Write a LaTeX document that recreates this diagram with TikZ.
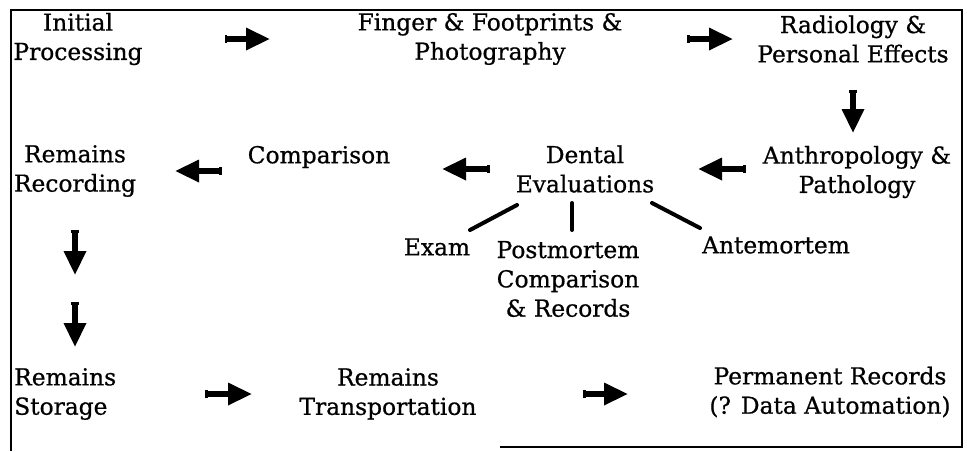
\documentclass[tikz,border=0pt]{standalone}
\usepackage{fontspec}
\setmainfont{DejaVu Serif}
\newfontfamily\stagefont{DejaVu Serif}[FakeBold=0.7]
\usetikzlibrary{arrows.meta,calc}

\def \textsize {\stagefont\fontsize{17.5}{22}\selectfont}
\tikzstyle{stage}=[inner sep=0pt, align=center, font=\textsize]
\tikzstyle{flow}=[line width=4pt, {Bar[width=6pt,line width=2pt]}-{Triangle[length=18pt,width=16pt]}]
\tikzstyle{branch}=[line width=3pt, line cap=round]
\tikzstyle{frame}=[line width=1.5pt]

\begin{document}
\begin{tikzpicture}[x=0.75pt, y=-0.75pt]
\useasboundingbox (0,0) rectangle (967,451);

% outer frame, bottom edge only partly printed
\draw[frame] (500,447) -- (962,447) -- (962,10) -- (11,10) -- (11,451);

% stages
\node[stage] (init) at (78,39) {Initial\\Processing};
\node[stage] (prints) at (490,39) {Finger \& Footprints \&\\Photography};
\node[stage] (radio) at (853,39) {Radiology \&\\Personal Effects};
\node[stage] (anthro) at (857,172) {Anthropology \&\\Pathology};
\node[stage] (dental) at (585,169) {Dental\\Evaluations};
\node[stage] (compare) at (319,157) {Comparison};
\node[stage] (recording) at (75,171) {Remains\\Recording};
\node[stage, align=left, anchor=west] (storage) at (14,394) {Remains\\Storage};
\node[stage] (transport) at (388,394) {Remains\\Transportation};
\node[stage] (records) at (830,392) {Permanent Records\\(? Data Automation)};

% dental sub-items
\node[stage] (exam) at (437,247) {Exam};
\node[stage] (postmortem) at (568,279) {Postmortem\\Comparison\\\& Records};
\node[stage] (antemortem) at (776,245) {Antemortem};

% flow arrows
\draw[flow, shorten <=110pt, shorten >=165pt] (init.center) -- (init.center -| prints.center);
\draw[flow, shorten <=147.75pt, shorten >=90pt] (prints.center) -- (prints.center -| radio.center);
\draw[flow, shorten <=38.25pt, shorten >=29.25pt] (radio.center) -- (radio.center |- anthro.center);
\draw[flow, shorten <=83.25pt, shorten >=84.75pt] (dental.center -| anthro.center) -- (dental.center);
\draw[flow, shorten <=71.25pt, shorten >=92.25pt] (dental.center) -- (dental.center -| compare.center);
\draw[flow, shorten <=72.75pt, shorten >=75pt] (recording.center -| compare.center) -- (recording.center);
\draw[flow, shorten <=44.25pt, shorten >=89.25pt] (recording.center) -- (recording.center |- storage.center);
\draw[flow, shorten <=98.25pt, shorten >=35.25pt] (recording.center) -- (recording.center |- storage.center);
\draw[flow, shorten <=143.25pt, shorten >=102pt] (transport.center -| storage.west) -- (transport.center);
\draw[flow, shorten <=146.25pt, shorten >=151.5pt] (transport.center) -- (transport.center -| records.center);

% branches of the dental evaluations
\draw[branch] ($(dental.center)+(-68,36)$) -- ($(exam.center)+(33,-17)$);
\draw[branch] ($(dental.center)+(-13,34)$) -- ($(postmortem.center)+(4,-49)$);
\draw[branch] ($(dental.center)+(67,34)$) -- ($(antemortem.center)+(-76,-17)$);

\end{tikzpicture}
\end{document}
